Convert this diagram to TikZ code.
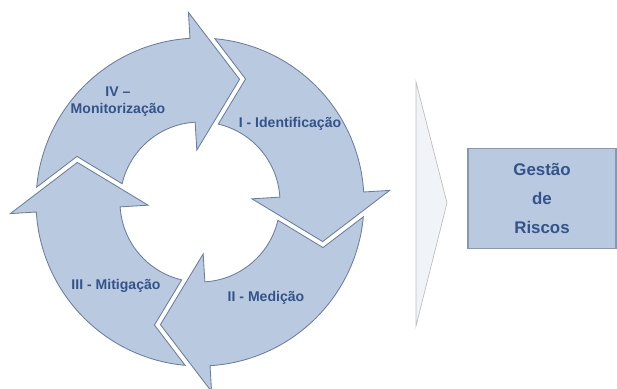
\documentclass[tikz,border=0pt]{standalone}
\usepackage{fontspec}
\setmainfont{Liberation Sans}
\usetikzlibrary{calc}

\definecolor{ringfill}{RGB}{185,201,224}
\definecolor{ringline}{RGB}{105,125,158}
\definecolor{ringtext}{RGB}{50,84,138}

\tikzset{
  ringarrow/.style={fill=ringfill, draw=ringline, line width=0.6pt, line join=miter},
  ringlabel/.style={text=ringtext, font=\fontsize{10}{12}\selectfont\bfseries, align=center, inner sep=0pt},
  riskbox/.style={fill=ringfill, draw=ringline!80, line width=0.8pt, text=ringtext,
    font=\fontsize{12}{20.5}\selectfont\bfseries, align=center,
    minimum width=3.7cm, minimum height=2.5cm}
}

% Seta circular (cabeca no topo, sentido horario)
\newcommand{\ringpiece}{%
  \filldraw[ringarrow] (174.8:4.1) arc[start angle=174.8, end angle=93.5, radius=4.1]
    -- (93.5:4.75) -- ($(93.5:3)+(3.5:1.175)$) -- (93.5:1.3) -- (93.5:2)
    arc[start angle=93.5, end angle=166.8, radius=2]
    -- ($(183.5:3)+(93.5:1.325)$) -- cycle;}

\begin{document}
\begin{tikzpicture}
\useasboundingbox (-5,-4.65) rectangle (10.425,5.05);

% Ciclo de quatro setas
\begin{scope}
\ringpiece
\end{scope}
\begin{scope}[rotate=-90]
\ringpiece
\end{scope}
\begin{scope}[rotate=-180]
\ringpiece
\end{scope}
\begin{scope}[rotate=-270]
\ringpiece
\end{scope}

\node[ringlabel] (monit) at (-2.05,2.5) {IV –\\Monitorização};
\node[ringlabel] (ident) at (2.25,1.95) {I - Identificação};
\node[ringlabel] (medic) at (1.65,-2.4) {II - Medição};
\node[ringlabel] (mitig) at (-2.1,-2.1) {III - Mitigação};

% Seta grande
\filldraw[fill=ringfill!22, draw=black!25, line width=0.5pt]
  (5.4,3.0) -- (6.175,-0.025) -- (5.4,-3.1) -- cycle;

% Caixa
\node[riskbox] (gestao) at (8.55,0.09) {Gestão\\de\\Riscos};
\end{tikzpicture}
\end{document}
